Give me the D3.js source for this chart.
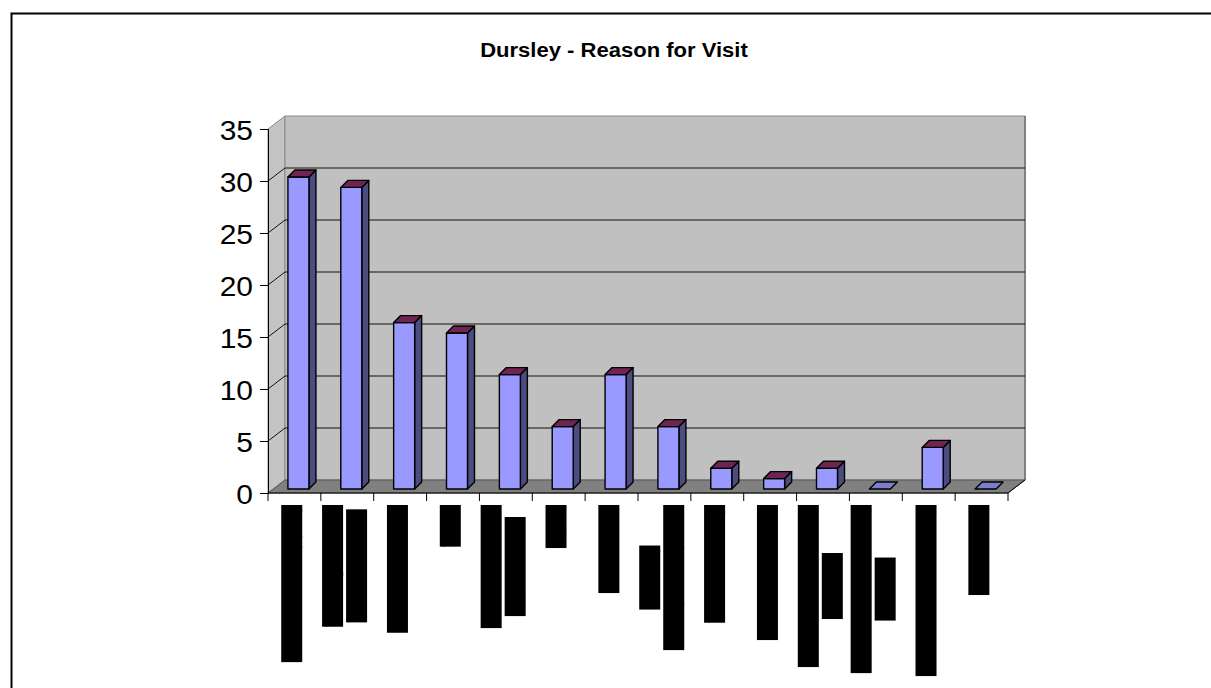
<!DOCTYPE html>
<html>
<head>
<meta charset="utf-8">
<script src="https://cdn.jsdelivr.net/npm/d3@7"></script>
<style>
  html, body { margin: 0; padding: 0; background: #fff; }
  svg { display: block; font-family: Arial, "Liberation Sans", sans-serif; }
</style>
</head>
<body>
<svg id="chart" width="1211" height="688"></svg>
<script>
// Survey results: reasons given for visiting Dursley
const categories = [
  ["Main food shopping"],
  ["Visiting friends/", "other relatives"],
  ["Bank/post office"],
  ["Work"],
  ["Health & dental", "appointment"],
  ["Sport"],
  ["Restaurant"],
  ["Passing", "through / stopover"],
  ["Visit the library"],
  ["Church / worship"],
  ["Council / community", "services"],
  ["Educational / training", "courses"],
  ["Hairdressers / beauty"],
  ["Other visits"]
];
const visits = [30, 29, 16, 15, 11, 6, 11, 6, 2, 1, 2, 0, 4, 0];
const yTicks = [0, 5, 10, 15, 20, 25, 30, 35];
const title = "Dursley - Reason for Visit";

const svg = d3.select("#chart");

// outer chart frame
svg.append("rect")
  .attr("x", 11.5).attr("y", 13.5)
  .attr("width", 1300).attr("height", 800)
  .attr("fill", "#fff").attr("stroke", "#000").attr("stroke-width", 2);

svg.append("text")
  .attr("transform", "translate(614,57) scale(1.13,1)")
  .attr("text-anchor", "middle")
  .attr("font-size", 19.5).attr("font-weight", "bold")
  .text(title);

// front plane of the 3D plot
const x0 = 268, x1 = 1008, yBase = 493, yTop = 129;
const depthX = 17, depthY = -13;         // wall depth
const barOffX = 4, barOffY = -4;         // bar position inside the depth
const barW = 21, barDX = 7, barDY = -7;  // bar size

const idx = d3.range(categories.length);
const x = d3.scaleBand().domain(idx).range([x0, x1]);
const y = d3.scaleLinear().domain([0, 35]).range([yBase, yTop]);

const g = svg.append("g");

// left side wall
g.append("polygon")
  .attr("points", [[x0, y(35)], [x0 + depthX, y(35) + depthY], [x0 + depthX, y(0) + depthY], [x0, y(0)]].join(" "))
  .attr("fill", "#c4c4c4").attr("stroke", "#8a8a8a").attr("stroke-width", 1);

// back wall
g.append("rect")
  .attr("x", x0 + depthX).attr("y", y(35) + depthY)
  .attr("width", x1 - x0).attr("height", y(0) - y(35))
  .attr("fill", "#c0c0c0").attr("stroke", "#8a8a8a").attr("stroke-width", 1);
g.append("line")
  .attr("x1", x1 + depthX).attr("x2", x1 + depthX)
  .attr("y1", y(35) + depthY).attr("y2", y(0) + depthY)
  .attr("stroke", "#808080").attr("stroke-width", 2);

// floor
g.append("polygon")
  .attr("points", [[x0, y(0)], [x1, y(0)], [x1 + depthX, y(0) + depthY], [x0 + depthX, y(0) + depthY]].join(" "))
  .attr("fill", "#808080").attr("stroke", "#555").attr("stroke-width", 1);

// gridlines on the back and side walls
const grid = g.append("g").attr("stroke", "#111").attr("stroke-width", 1);
yTicks.filter(t => t > 0 && t < 35).forEach(t => {
  grid.append("line")
    .attr("x1", x0).attr("y1", y(t))
    .attr("x2", x0 + depthX).attr("y2", y(t) + depthY);
  grid.append("line")
    .attr("x1", x0 + depthX).attr("y1", y(t) + depthY)
    .attr("x2", x1 + depthX).attr("y2", y(t) + depthY);
});

// 3D columns
const bars = g.selectAll("g.bar").data(visits).join("g").attr("class", "bar");
bars.each(function(v, i) {
  const sel = d3.select(this);
  const left = x(i) + x.bandwidth() / 2 - barW / 2 + barOffX;
  const right = left + barW;
  const bottom = y(0) + barOffY;
  const top = y(v) + barOffY;
  const poly = (pts, fill) => sel.append("polygon")
    .attr("points", pts.join(" ")).attr("fill", fill)
    .attr("stroke", "#000").attr("stroke-width", 1.4).attr("stroke-linejoin", "round");
  if (v > 0) {
    poly([[right, top], [right + barDX, top + barDY], [right + barDX, bottom + barDY], [right, bottom]], "#4c4c80");
    poly([[left, top], [right, top], [right, bottom], [left, bottom]], "#9999ff");
    poly([[left, top], [left + barDX, top + barDY], [right + barDX, top + barDY], [right, top]], "#6f2452");
  } else {
    poly([[left, top], [left + barDX, top + barDY], [right + barDX, top + barDY], [right, top]], "#7d7dd0");
  }
});

// value axis
const yAxis = d3.axisLeft(y).tickValues(yTicks).tickSize(8).tickPadding(6);
const ya = svg.append("g").attr("transform", `translate(${x0},0)`).call(yAxis);
ya.select(".domain").attr("stroke", "#000").attr("stroke-width", 1);
ya.selectAll(".tick line").attr("stroke", "#000");
ya.selectAll(".tick text")
  .attr("font-size", 28).attr("font-family", "Arial, 'Liberation Sans', sans-serif").attr("fill", "#000")
  .attr("text-anchor", "end").attr("x", null).attr("dy", null)
  .attr("transform", "translate(-15,10) scale(1.07,1)");

// category axis with ticks at band boundaries
const xa = svg.append("g");
xa.append("line").attr("x1", x0).attr("x2", x1).attr("y1", yBase).attr("y2", yBase)
  .attr("stroke", "#000").attr("stroke-width", 1.2);
xa.append("line").attr("x1", x1).attr("x2", x1 + depthX).attr("y1", yBase).attr("y2", yBase + depthY)
  .attr("stroke", "#000").attr("stroke-width", 1);
xa.selectAll("line.tick").data(idx.concat([categories.length])).join("line")
  .attr("class", "tick")
  .attr("x1", i => i < categories.length ? x(i) : x1)
  .attr("x2", i => i < categories.length ? x(i) : x1)
  .attr("y1", yBase).attr("y2", yBase + 8)
  .attr("stroke", "#000").attr("stroke-width", 1);

// rotated category labels, printed on black blocks
const labelTop = 505, linePitch = 24, labelFont = 18;
const labels = svg.append("g").attr("font-size", labelFont);
categories.forEach((lines, i) => {
  const cx = x(i) + x.bandwidth() / 2 - 2.7;
  const grp = labels.append("g");
  const texts = lines.map((s, j) => {
    const lx = cx + (j - (lines.length - 1) / 2) * linePitch;
    const t = grp.append("text").attr("text-anchor", "middle").attr("fill", "#000").text(s);
    return { t, lx, len: t.node().getComputedTextLength() };
  });
  const maxLen = d3.max(texts, d => d.len);
  const cy = labelTop + maxLen / 2;
  texts.forEach(({ t, lx, len }) => {
    grp.insert("rect", "text")
      .attr("x", lx - 10.5).attr("y", cy - len / 2)
      .attr("width", 21).attr("height", len)
      .attr("fill", "#000");
    t.attr("transform", `translate(${lx + 6},${cy}) rotate(-90)`);
  });
});
</script>
</body>
</html>
